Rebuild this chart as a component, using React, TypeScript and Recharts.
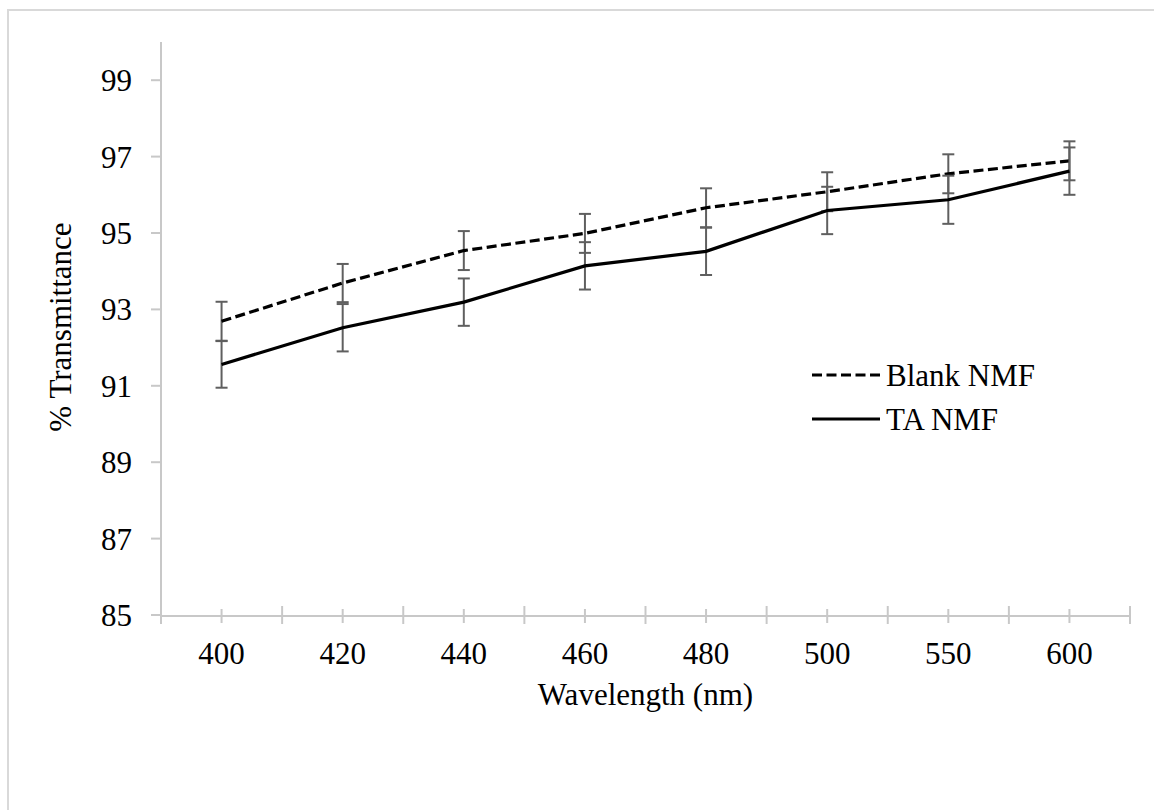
import React from 'react';
import { LineChart, Line, XAxis, YAxis, ErrorBar, Legend } from 'recharts';

const wavelengths = ['400', '420', '440', '460', '480', '500', '550', '600'];
const blankNMF = [92.69, 93.69, 94.54, 94.99, 95.66, 96.08, 96.55, 96.89];
const taNMF = [91.56, 92.52, 93.19, 94.14, 94.52, 95.59, 95.87, 96.62];
const blankErr = [0.51, 0.5, 0.51, 0.51, 0.51, 0.51, 0.51, 0.51];
const taErr = [0.61, 0.62, 0.62, 0.62, 0.62, 0.62, 0.63, 0.62];
const yTicks = [85, 87, 89, 91, 93, 95, 97, 99];

const data = wavelengths.map((w, i) => ({
  idx: i,
  wavelength: w,
  blank: blankNMF[i],
  blankErr: blankErr[i],
  ta: taNMF[i],
  taErr: taErr[i],
}));

const xTicks = wavelengths.map((_, i) => i);
const edgeTicks = [...wavelengths.map((_, i) => i - 0.5), wavelengths.length - 0.5];
const xDomain: [number, number] = [-0.5, wavelengths.length - 0.5];

const FONT = 'Liberation Serif';
const AXIS = '#c8c8c8';

const series = [
  { key: 'blank', name: 'Blank NMF', dash: '10 4.5' },
  { key: 'ta', name: 'TA NMF', dash: undefined as string | undefined },
];

const MainTick = (props: any) => {
  const { x, y, payload } = props;
  return (
    <g>
      <line x1={x} x2={x} y1={y - 7} y2={y + 7} stroke={AXIS} strokeWidth={2} />
      <text x={x} y={y + 48} textAnchor="middle" fontSize={31} fontFamily={FONT} fill="#000">
        {wavelengths[payload.value]}
      </text>
    </g>
  );
};

const EdgeTick = (props: any) => {
  const { x, y } = props;
  return <line x1={x} x2={x} y1={y - 9} y2={y + 9} stroke={AXIS} strokeWidth={2} />;
};

const LegendContent = () => (
  <svg width={260} height={100} style={{ display: 'block' }}>
    {series.map((s, i) => (
      <g key={s.key}>
        <line
          x1={7}
          x2={75}
          y1={25 + i * 44}
          y2={25 + i * 44}
          stroke="#000"
          strokeWidth={3}
          strokeDasharray={s.dash}
        />
        <text x={81} y={25 + i * 44 + 11} fontSize={31} fontFamily={FONT} fill="#000">
          {s.name}
        </text>
      </g>
    ))}
  </svg>
);

export default function App() {
  return (
    <div style={{ position: 'absolute', left: 0, top: 0, width: 1154, height: 810, background: '#fff', fontFamily: FONT }}>
      <div
        style={{
          position: 'absolute',
          left: 7,
          top: 9,
          width: 1150,
          height: 805,
          borderLeft: '2px solid #d9d9d9',
          borderTop: '2px solid #d9d9d9',
        }}
      />
      <div style={{ position: 'absolute', left: 0, top: 0 }}>
        <LineChart
          width={1154}
          height={810}
          data={data}
          margin={{ top: 42, right: 24, bottom: 134, left: 0 }}
        >
          <XAxis
            xAxisId="edges"
            dataKey="idx"
            type="number"
            domain={xDomain}
            ticks={edgeTicks}
            allowDataOverflow
            height={1}
            axisLine={false}
            tickLine={false}
            tickSize={0}
            tickMargin={0}
            interval={0}
            tick={<EdgeTick />}
          />
          <XAxis
            xAxisId="main"
            dataKey="idx"
            type="number"
            domain={xDomain}
            ticks={xTicks}
            allowDataOverflow
            height={60}
            axisLine={{ stroke: AXIS, strokeWidth: 2 }}
            tickLine={false}
            tickSize={0}
            tickMargin={0}
            interval={0}
            tick={<MainTick />}
            label={{
              value: 'Wavelength (nm)',
              position: 'insideBottom',
              offset: -29,
              fontSize: 31,
              fontFamily: FONT,
              fill: '#000',
            }}
          />
          <YAxis
            type="number"
            domain={[85, 100]}
            ticks={yTicks}
            width={161}
            interval={0}
            axisLine={{ stroke: AXIS, strokeWidth: 2 }}
            tickLine={{ stroke: AXIS, strokeWidth: 2 }}
            tickSize={10}
            tickMargin={19}
            tick={{ fontSize: 31, fontFamily: FONT, fill: '#000' }}
            label={{
              content: () => (
                <text
                  x={71}
                  y={327}
                  transform="rotate(-90, 71, 327)"
                  textAnchor="middle"
                  fontSize={31}
                  fontFamily={FONT}
                  fill="#000"
                >
                  % Transmittance
                </text>
              ),
            }}
          />
          <Legend
            layout="vertical"
            align="center"
            verticalAlign="middle"
            content={<LegendContent />}
            wrapperStyle={{ left: 805, top: 350, width: 260, height: 100 }}
          />
          <Line
            xAxisId="main"
            dataKey="blank"
            name="Blank NMF"
            stroke="#000"
            strokeWidth={3.2}
            strokeDasharray="10 4.5"
            dot={false}
            activeDot={false}
            isAnimationActive={false}
          >
            <ErrorBar dataKey="blankErr" direction="y" width={6} stroke="#5f5f5f" strokeWidth={2} isAnimationActive={false} />
          </Line>
          <Line
            xAxisId="main"
            dataKey="ta"
            name="TA NMF"
            stroke="#000"
            strokeWidth={3.2}
            dot={false}
            activeDot={false}
            isAnimationActive={false}
          >
            <ErrorBar dataKey="taErr" direction="y" width={6} stroke="#5f5f5f" strokeWidth={2} isAnimationActive={false} />
          </Line>
        </LineChart>
      </div>
    </div>
  );
}
